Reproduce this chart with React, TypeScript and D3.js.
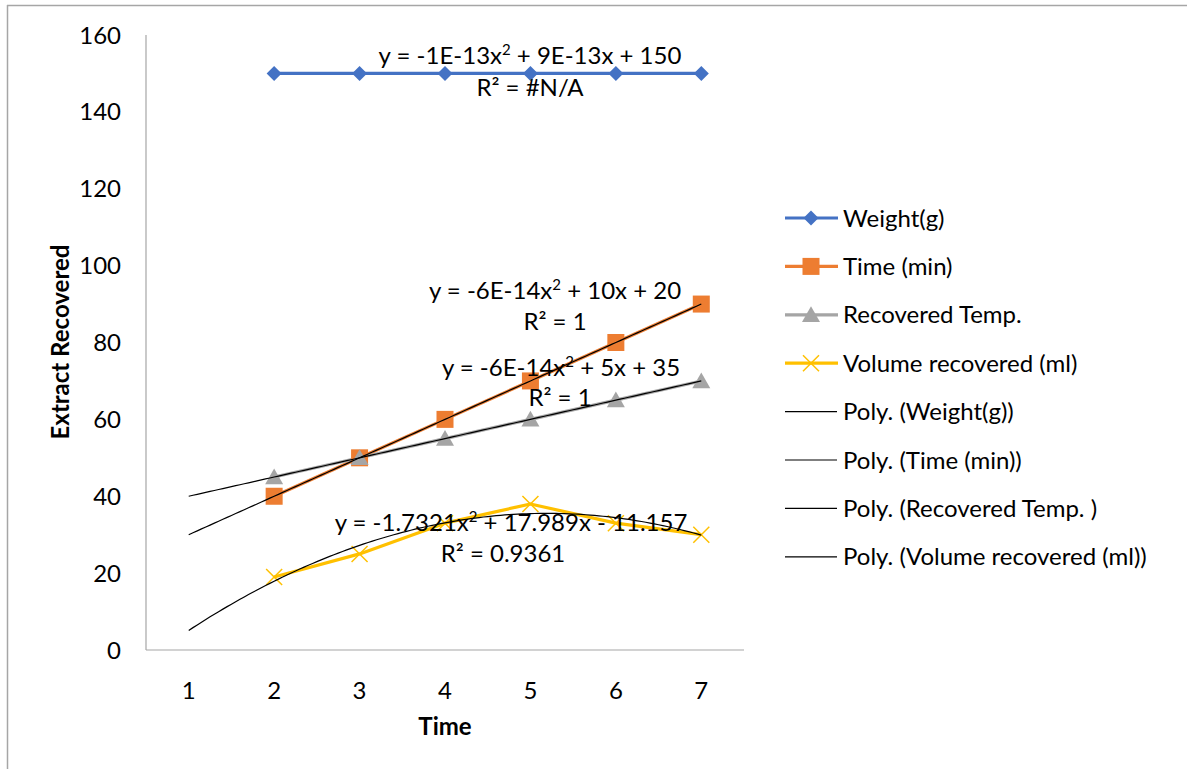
import React from "react";
import * as d3 from "d3";

const categories = [1, 2, 3, 4, 5, 6, 7];
const yTicks = [0, 20, 40, 60, 80, 100, 120, 140, 160];
const weightX = [2, 3, 4, 5, 6, 7];
const weightVals = [150, 150, 150, 150, 150, 150];
const timeVals = [40, 50, 60, 70, 80, 90];
const tempVals = [45, 50, 55, 60, 65, 70];
const volumeVals = [19, 25, 33, 38, 33, 30];

// trendline coefficients [a, b, c] for y = a x^2 + b x + c
const trendTime = [0, 10, 20];
const trendTemp = [0, 5, 35];
const trendVolume = [-1.7321, 17.989, -11.157];

const seriesNames = ["Weight(g)", "Time (min)", "Recovered Temp.", "Volume recovered (ml)"];
const trendNames = ["Poly. (Weight(g))", "Poly. (Time (min))", "Poly. (Recovered Temp. )", "Poly. (Volume recovered (ml))"];
const colors = ["#4472C4", "#ED7D31", "#A5A5A5", "#FFC000"];

const FONT = "Lato, 'Open Sans', sans-serif";
const FS = 24;

export default function App() {
  const W = 1187, H = 769;
  const left = 146, right = 744, top = 35, bottom = 650;
  const band = (right - left) / categories.length;
  const x = (v: number) => left + band * (v - 0.5);
  const y = d3.scaleLinear().domain([0, 160]).range([bottom, top]);

  const line = d3.line<[number, number]>().x(d => x(d[0])).y(d => y(d[1]));
  const zip = (vals: number[]) => vals.map((v, i) => [weightX[i], v] as [number, number]);
  const trendPts = (c: number[]) => {
    const pts: [number, number][] = [];
    for (let t = 1; t <= 7.0001; t += 0.05) pts.push([t, c[0] * t * t + c[1] * t + c[2]]);
    return pts;
  };

  const diamond = (cx: number, cy: number, r: number, col: string, k: string) => (
    <path key={k} d={`M${cx - r},${cy}L${cx},${cy - r}L${cx + r},${cy}L${cx},${cy + r}Z`} fill={col} />
  );
  const square = (cx: number, cy: number, r: number, col: string, k: string) => (
    <rect key={k} x={cx - r} y={cy - r} width={2 * r} height={2 * r} fill={col} />
  );
  const tri = (cx: number, cy: number, r: number, col: string, k: string) => (
    <path key={k} d={`M${cx - r},${cy + r * 0.8}L${cx},${cy - r * 0.95}L${cx + r},${cy + r * 0.8}Z`} fill={col} />
  );
  const cross = (cx: number, cy: number, r: number, col: string, k: string) => (
    <path key={k} d={`M${cx - r},${cy - r}L${cx + r},${cy + r}M${cx - r},${cy + r}L${cx + r},${cy - r}`} stroke={col} strokeWidth={1.5} fill="none" />
  );
  const markers = [diamond, square, tri, cross];
  const mSize = [7.5, 8.5, 9, 8];
  const allVals = [weightVals, timeVals, tempVals, volumeVals];

  const eqText = (cx: number, by: number, pre: string, post: string) => (
    <text x={cx} y={by} textAnchor="middle" fontSize={FS} fill="#000">
      {pre}<tspan fontSize={15} dy={-9}>2</tspan><tspan dy={9}>{post}</tspan>
    </text>
  );

  const legY0 = 218, legStep = 48.4;

  return (
    <svg width={W} height={H} style={{ display: "block", position: "absolute", left: 0, top: 0 }} fontFamily={FONT}>
      <rect x={0} y={0} width={W} height={H} fill="#fff" />
      <line x1={7} y1={5.5} x2={W} y2={5.5} stroke="#A6A6A6" strokeWidth={1.5} />
      <line x1={7.5} y1={5} x2={7.5} y2={H} stroke="#A6A6A6" strokeWidth={1.5} />

      {/* axes */}
      <line x1={left} y1={top} x2={left} y2={bottom} stroke="#A6A6A6" strokeWidth={1.2} />
      <line x1={left} y1={bottom} x2={right} y2={bottom} stroke="#A6A6A6" strokeWidth={1.2} />
      {yTicks.map(t => (
        <text key={t} x={121} y={y(t) + 8.5} textAnchor="end" fontSize={FS} fill="#000">{t}</text>
      ))}
      {categories.map(c => (
        <text key={c} x={x(c)} y={699} textAnchor="middle" fontSize={FS} fill="#000">{c}</text>
      ))}
      <text x={445} y={735} textAnchor="middle" fontSize={FS} fontWeight="bold" fill="#000">Time</text>
      <text transform="translate(69,342) rotate(-90)" textAnchor="middle" fontSize={FS} fontWeight="bold" fill="#000">Extract Recovered</text>

      {/* series lines */}
      {allVals.map((vals, i) => (
        <path key={"l" + i} d={line(zip(vals)) || ""} fill="none" stroke={colors[i]} strokeWidth={3.2} strokeLinejoin="round" />
      ))}
      {allVals.map((vals, i) => zip(vals).map((p, j) => markers[i](x(p[0]), y(p[1]), mSize[i], colors[i], `m${i}-${j}`)))}

      {/* trendlines */}
      {[trendTime, trendTemp, trendVolume].map((c, i) => (
        <path key={"t" + i} d={line(trendPts(c)) || ""} fill="none" stroke="#000" strokeWidth={1.2} />
      ))}

      {/* equations */}
      {eqText(530, 64, "y = -1E-13x", " + 9E-13x + 150")}
      <text x={530} y={96} textAnchor="middle" fontSize={FS}>R² = #N/A</text>
      {eqText(555, 299, "y = -6E-14x", " + 10x + 20")}
      <text x={555} y={330} textAnchor="middle" fontSize={FS}>R² = 1</text>
      {eqText(561, 376, "y = -6E-14x", " + 5x + 35")}
      <text x={560} y={406} textAnchor="middle" fontSize={FS}>R² = 1</text>
      {eqText(511, 531, "y = -1.7321x", " + 17.989x - 11.157")}
      <text x={503} y={562} textAnchor="middle" fontSize={FS}>R² = 0.9361</text>

      {/* legend */}
      {seriesNames.map((n, i) => {
        const ly = legY0 + i * legStep;
        return (
          <g key={"lg" + i}>
            <line x1={785} x2={838} y1={ly} y2={ly} stroke={colors[i]} strokeWidth={3.2} />
            {markers[i](811, ly, mSize[i], colors[i], "lm" + i)}
            <text x={843} y={ly + 8.5} fontSize={FS}>{n}</text>
          </g>
        );
      })}
      {trendNames.map((n, i) => {
        const ly = legY0 + (i + 4) * legStep;
        return (
          <g key={"tg" + i}>
            <line x1={785} x2={837} y1={ly} y2={ly} stroke="#000" strokeWidth={1.2} />
            <text x={843} y={ly + 8.5} fontSize={FS}>{n}</text>
          </g>
        );
      })}
    </svg>
  );
}
